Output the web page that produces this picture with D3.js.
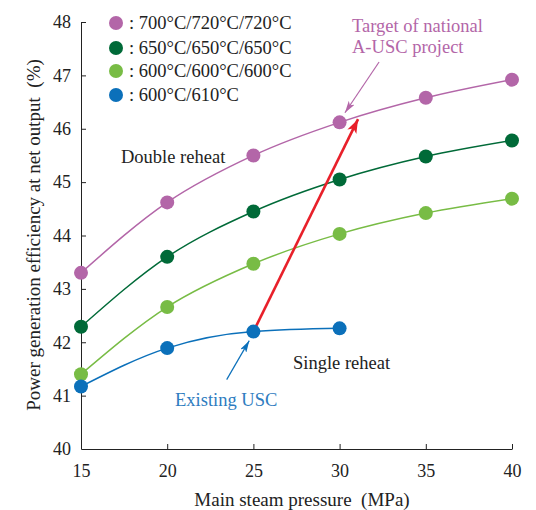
<!DOCTYPE html>
<html>
<head>
<meta charset="utf-8">
<script src="https://cdn.jsdelivr.net/npm/d3@7"></script>
<style>
  body { margin: 0; background: #fff; }
</style>
</head>
<body>
<svg id="chart" width="536" height="510"></svg>
<script>
// data
const pressures = [15, 20, 25, 30, 35, 40];
const xTicks = [15, 20, 25, 30, 35, 40];
const yTicks = [40, 41, 42, 43, 44, 45, 46, 47, 48];

const seriesNames = [': 700°C/720°C/720°C', ': 650°C/650°C/650°C', ': 600°C/600°C/600°C', ': 600°C/610°C'];
const seriesColors = ['#b366a8', '#006a38', '#78bc45', '#0b70ba'];
const eff700 = [43.3, 44.62, 45.5, 46.12, 46.58, 46.92];
const eff650 = [42.29, 43.6, 44.45, 45.05, 45.48, 45.78];
const eff600 = [41.4, 42.66, 43.47, 44.03, 44.42, 44.69];
const effUsc = [41.17, 41.89, 42.2, 42.26];

// arrows: [x1, y1, x2, y2] in data units
const arrowRed = [25, 42.2, 31.07, 46.18];
const arrowTarget = [32.29, 47.25, 30.31, 46.3];
const arrowUsc = [23.45, 41.3, 24.76, 42.03];

const serif = '"Liberation Serif", "Times New Roman", serif';
const svg = d3.select('#chart');
const x = d3.scaleLinear().domain([15, 40]).range([81, 512]);
const y = d3.scaleLinear().domain([40, 48]).range([449, 22]);

// axes
const xAxis = svg.append('g')
    .attr('transform', `translate(0,${y(40)})`)
    .call(d3.axisBottom(x).tickValues(xTicks).tickSizeInner(-5).tickSizeOuter(0).tickPadding(15));
const yAxis = svg.append('g')
    .attr('transform', `translate(${x(15)},0)`)
    .call(d3.axisLeft(y).tickValues(yTicks).tickSizeInner(-5).tickSizeOuter(0).tickPadding(10));
[xAxis, yAxis].forEach(a => {
    a.attr('font-family', serif);
    a.select('.domain').attr('stroke', '#222').attr('stroke-width', 1);
    a.selectAll('.tick line').attr('stroke', '#222');
    a.selectAll('.tick text').attr('font-size', 18).attr('fill', '#222');
});
yAxis.selectAll('.tick').filter(d => d === 40).select('line').remove();
xAxis.selectAll('.tick').filter(d => d === 15).select('line').remove();

svg.append('text')
    .attr('x', 302).attr('y', 506)
    .attr('text-anchor', 'middle')
    .attr('font-size', 19).attr('fill', '#222')
    .text('Main steam pressure\u2002(MPa)');
svg.append('text')
    .attr('transform', 'translate(40,235) rotate(-90)')
    .attr('text-anchor', 'middle')
    .attr('font-size', 19).attr('fill', '#222')
    .text('Power generation efficiency at net output\u2002(%)');

// lines + points
const allSeries = [eff700, eff650, eff600, effUsc];
const line = d3.line()
    .x((d, i) => x(pressures[i]))
    .y(d => y(d))
    .curve(d3.curveMonotoneX);

const defs = svg.append('defs');
function addMarker(id, color, w, h) {
    defs.append('marker')
        .attr('id', id)
        .attr('viewBox', `0 0 ${w} ${h}`)
        .attr('refX', w).attr('refY', h / 2)
        .attr('markerWidth', w).attr('markerHeight', h)
        .attr('markerUnits', 'userSpaceOnUse')
        .attr('orient', 'auto')
        .append('path')
        .attr('d', `M0,0L${w},${h / 2}L0,${h}L${w * 0.25},${h / 2}Z`)
        .attr('fill', color);
}
addMarker('arrRed', '#e8202a', 14, 10);
addMarker('arrPurple', '#b366a8', 12, 7);
addMarker('arrBlue', '#0b70ba', 12, 7);

allSeries.forEach((vals, s) => {
    svg.append('path')
        .datum(vals)
        .attr('d', line)
        .attr('fill', 'none')
        .attr('stroke', seriesColors[s])
        .attr('stroke-width', 1.5);
});

svg.append('line')
    .attr('x1', x(arrowRed[0])).attr('y1', y(arrowRed[1]))
    .attr('x2', x(arrowRed[2])).attr('y2', y(arrowRed[3]))
    .attr('stroke', '#e8202a').attr('stroke-width', 2.6)
    .attr('marker-end', 'url(#arrRed)');

allSeries.forEach((vals, s) => {
    svg.selectAll(null)
        .data(vals)
        .enter()
        .append('circle')
        .attr('cx', (d, i) => x(pressures[i]))
        .attr('cy', d => y(d))
        .attr('r', 7)
        .attr('fill', seriesColors[s]);
});

svg.append('line')
    .attr('x1', x(arrowTarget[0])).attr('y1', y(arrowTarget[1]))
    .attr('x2', x(arrowTarget[2])).attr('y2', y(arrowTarget[3]))
    .attr('stroke', '#b366a8').attr('stroke-width', 1.2)
    .attr('marker-end', 'url(#arrPurple)');
svg.append('line')
    .attr('x1', x(arrowUsc[0])).attr('y1', y(arrowUsc[1]))
    .attr('x2', x(arrowUsc[2])).attr('y2', y(arrowUsc[3]))
    .attr('stroke', '#0b70ba').attr('stroke-width', 1.2)
    .attr('marker-end', 'url(#arrBlue)');

// legend
const legend = svg.append('g');
seriesNames.forEach((name, i) => {
    const ly = [23, 48, 71, 95][i];
    legend.append('circle').attr('cx', 116).attr('cy', ly).attr('r', 7).attr('fill', seriesColors[i]);
    legend.append('text').attr('x', 129).attr('y', ly + 6)
        .attr('font-size', 18.5).attr('fill', '#222').text(name);
});

// annotations
svg.append('text').attr('x', 352).attr('y', 32).attr('font-size', 18.5).attr('fill', '#b366a8').text('Target of national');
svg.append('text').attr('x', 352).attr('y', 53).attr('font-size', 18.5).attr('fill', '#b366a8').text('A-USC project');
svg.append('text').attr('x', 121).attr('y', 163).attr('font-size', 18.5).attr('fill', '#222').text('Double reheat');
svg.append('text').attr('x', 293).attr('y', 369).attr('font-size', 18.5).attr('fill', '#222').text('Single reheat');
svg.append('text').attr('x', 175).attr('y', 406).attr('font-size', 18.5).attr('fill', '#2e7cc0').text('Existing USC');

// same serif face everywhere
svg.selectAll('text').style('font-family', serif);
</script>
</body>
</html>
